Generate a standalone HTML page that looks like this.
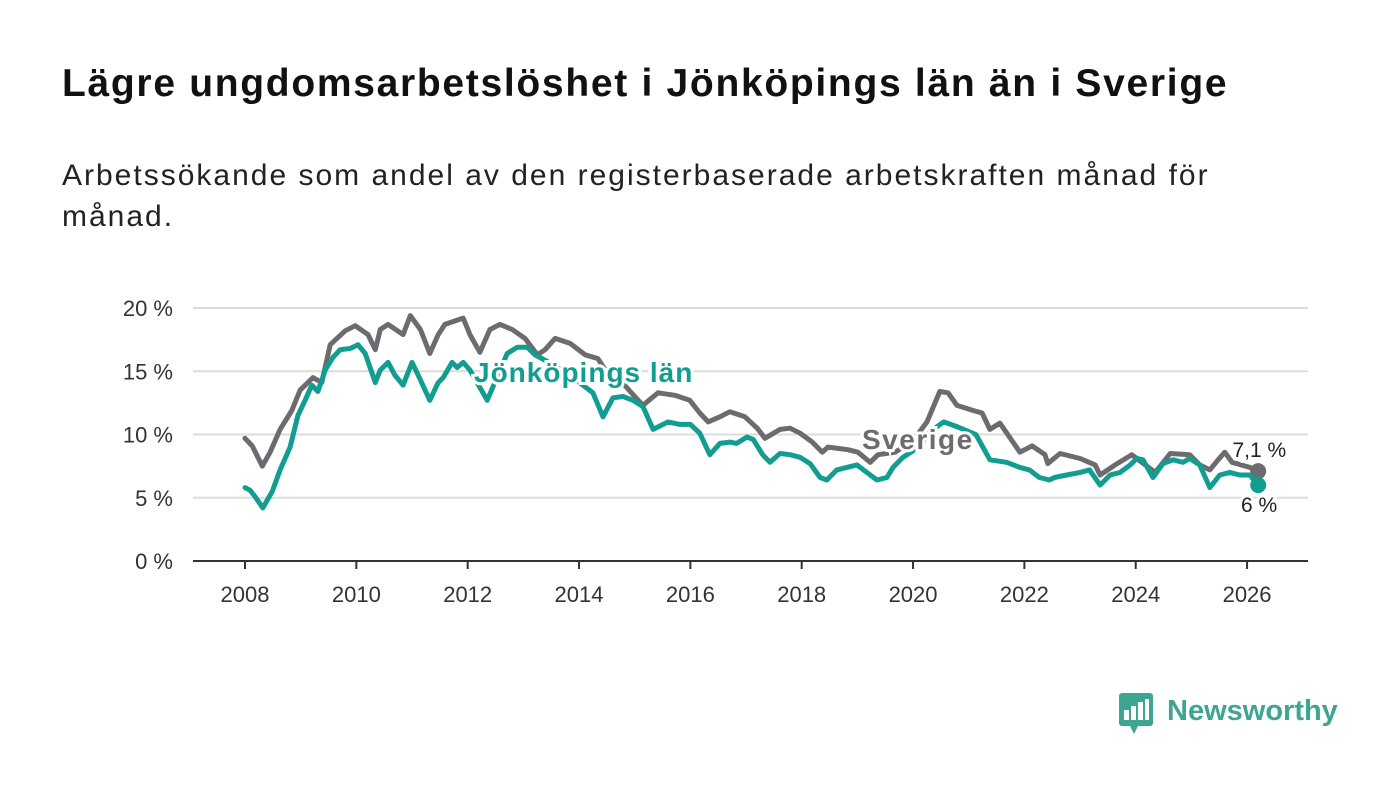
<!DOCTYPE html>
<html><head><meta charset="utf-8">
<style>
body{margin:0;width:1400px;height:794px;background:#fff;overflow:hidden;font-family:"Liberation Sans","DejaVu Sans",sans-serif;}
#title{position:absolute;left:62px;top:62px;font-size:39px;font-weight:bold;color:#111;margin:0;letter-spacing:1.7px}
#sub{position:absolute;left:62px;top:155px;font-size:30px;line-height:41px;color:#222;width:1300px;letter-spacing:2px}
svg{position:absolute;left:0;top:0}
</style></head><body>
<h1 id="title">Lägre ungdomsarbetslöshet i Jönköpings län än i Sverige</h1>
<div id="sub">Arbetssökande som andel av den registerbaserade arbetskraften månad för<br>månad.</div>
<svg id="chart" width="1400" height="794"></svg>
<script>
const yTicks=[0,5,10,15,20];
const yTickLabels=["0 %","5 %","10 %","15 %","20 %"];
const xTicks=[2008,2010,2012,2014,2016,2018,2020,2022,2024,2026];
const sweYears=[2008.0,2008.13,2008.31,2008.45,2008.63,2008.84,2008.99,2009.22,2009.38,2009.53,2009.8,2009.98,2010.21,2010.34,2010.43,2010.57,2010.84,2010.97,2011.15,2011.32,2011.47,2011.59,2011.92,2012.04,2012.22,2012.4,2012.58,2012.8,2013.03,2013.25,2013.39,2013.57,2013.84,2014.11,2014.34,2014.5,2014.74,2014.92,2015.15,2015.31,2015.42,2015.72,2015.99,2016.17,2016.32,2016.53,2016.71,2016.98,2017.2,2017.34,2017.61,2017.79,2017.97,2018.19,2018.37,2018.47,2018.65,2018.83,2019.01,2019.23,2019.37,2019.68,2020.0,2020.25,2020.48,2020.63,2020.79,2021.08,2021.24,2021.38,2021.56,2021.92,2022.14,2022.37,2022.42,2022.64,2023.0,2023.27,2023.36,2023.63,2023.93,2024.35,2024.62,2024.97,2025.15,2025.33,2025.48,2025.6,2025.73,2026.05,2026.2];
const sweValues=[9.7,9.1,7.5,8.6,10.4,11.9,13.5,14.5,14.1,17.1,18.2,18.6,17.9,16.7,18.3,18.7,17.9,19.4,18.3,16.4,17.9,18.7,19.2,17.9,16.5,18.3,18.7,18.3,17.6,16.3,16.7,17.6,17.2,16.3,16.0,14.9,14.3,13.4,12.3,12.9,13.3,13.1,12.7,11.7,11.0,11.4,11.8,11.4,10.5,9.7,10.4,10.5,10.1,9.4,8.6,9.0,8.9,8.8,8.6,7.8,8.4,8.6,9.5,11.0,13.4,13.3,12.3,11.9,11.7,10.4,10.9,8.6,9.1,8.4,7.7,8.5,8.1,7.6,6.8,7.6,8.4,7.0,8.5,8.4,7.6,7.2,8.0,8.6,7.8,7.4,7.1];
const jkpYears=[2008.0,2008.09,2008.18,2008.32,2008.49,2008.63,2008.81,2008.95,2009.08,2009.2,2009.31,2009.44,2009.58,2009.71,2009.89,2010.03,2010.16,2010.34,2010.43,2010.57,2010.69,2010.84,2011.0,2011.11,2011.32,2011.47,2011.56,2011.72,2011.81,2011.92,2012.04,2012.35,2012.71,2012.89,2013.07,2013.21,2013.5,2013.8,2014.25,2014.43,2014.61,2014.79,2014.97,2015.15,2015.33,2015.6,2015.81,2016.0,2016.17,2016.35,2016.53,2016.71,2016.83,2017.02,2017.13,2017.3,2017.43,2017.61,2017.79,2017.97,2018.15,2018.33,2018.45,2018.63,2018.81,2018.99,2019.17,2019.35,2019.53,2019.64,2019.82,2020.1,2020.3,2020.55,2020.8,2021.13,2021.38,2021.68,2021.92,2022.09,2022.27,2022.45,2022.54,2022.76,2023.0,2023.17,2023.36,2023.54,2023.72,2023.9,2024.02,2024.13,2024.31,2024.49,2024.67,2024.85,2024.97,2025.15,2025.33,2025.51,2025.69,2025.87,2026.05,2026.2];
const jkpValues=[5.8,5.6,5.1,4.2,5.5,7.2,9.0,11.5,12.7,13.9,13.4,15.1,16.1,16.7,16.8,17.1,16.4,14.1,15.1,15.7,14.7,13.9,15.7,14.7,12.7,14.1,14.5,15.7,15.3,15.7,15.1,12.7,16.4,16.9,16.9,16.3,15.6,14.8,13.3,11.4,12.9,13.0,12.7,12.2,10.4,11.0,10.8,10.8,10.1,8.4,9.3,9.4,9.3,9.8,9.6,8.4,7.8,8.5,8.4,8.2,7.7,6.6,6.4,7.2,7.4,7.6,7.0,6.4,6.6,7.4,8.2,9.0,10.2,11.0,10.6,10.0,8.0,7.8,7.4,7.2,6.6,6.4,6.6,6.8,7.0,7.2,6.0,6.8,7.0,7.6,8.1,8.0,6.6,7.7,8.0,7.8,8.1,7.6,5.8,6.8,7.0,6.8,6.8,6.0];
const sweLast="7,1 %", jkpLast="6 %";

const NS="http://www.w3.org/2000/svg";
const svg=document.getElementById('chart');
const X0=193,X1=1308,Y0=561;
const xs=t=>245+(t-2008)*55.67;
const ys=v=>Y0-v*12.65;
function mk(tag,at,parent){const e=document.createElementNS(NS,tag);for(const k in at)e.setAttribute(k,at[k]);(parent||svg).appendChild(e);return e;}

yTicks.forEach((v,i)=>{
  if(v>0){const g=mk('line',{x1:X0,x2:X1,y1:ys(v),y2:ys(v),stroke:'#dcdcdc','stroke-width':2});
  
  }
  const t=mk('text',{x:173,y:ys(v)+8,'text-anchor':'end','font-size':22,fill:'#333'});
  t.textContent=yTickLabels[i];
  
  
});
const ax=mk('line',{x1:X0,x2:X1,y1:Y0,y2:Y0,stroke:'#333','stroke-width':2});


xTicks.forEach(y=>{
  const tk=mk('line',{x1:xs(y),x2:xs(y),y1:Y0,y2:Y0+8,stroke:'#333','stroke-width':2});
  
  
  const t=mk('text',{x:xs(y),y:602,'text-anchor':'middle','font-size':22,fill:'#333'});
  t.textContent=y;
  
  
});
function line(years,vals,color,name){
  const d=years.map((t,i)=>(i?'L':'M')+xs(t).toFixed(1)+','+ys(vals[i]).toFixed(1)).join('');
  const p=mk('path',{d:d,fill:'none',stroke:color,'stroke-width':5,'stroke-linejoin':'round','stroke-linecap':'round'});
  
  
  const n=years.length-1;
  const c=mk('circle',{cx:xs(years[n]),cy:ys(vals[n]),r:8,fill:color});
  
  
}
line(sweYears,sweValues,'#6d6b70','sverige-line');
line(jkpYears,jkpValues,'#119e91','jonkoping-line');
function lbl(x,y,txt,color,size,weight,anchor,name,ls){
  const t=mk('text',{x:x,y:y,'font-size':size,'font-weight':weight,fill:color,stroke:'#fff','stroke-width':6,'paint-order':'stroke','text-anchor':anchor||'start','letter-spacing':ls||0});
  t.textContent=txt;
  
  
}
lbl(474,382,'Jönköpings län','#119e91',28,'bold','start','jonkoping-series-label',1);
lbl(862,449,'Sverige','#6d6b70',28,'bold','start','sverige-series-label',1.5);
const ns=sweYears.length-1, nj=jkpYears.length-1;
lbl(xs(sweYears[ns])+28,ys(sweValues[ns])-14,sweLast,'#222',21,'normal','end','sverige-end-value');
lbl(xs(jkpYears[nj])+19,ys(jkpValues[nj])+27,jkpLast,'#222',21,'normal','end','jonkoping-end-value');

// logo
const lg=mk('g',{});


mk('rect',{x:1119,y:693,width:34,height:33,rx:3,fill:'#3fa593'},lg);
mk('polygon',{points:'1130,726 1138,726 1134,734',fill:'#3fa593'},lg);
[[1124,710,5],[1131,706,5],[1138,702,5],[1145,699,4]].forEach(b=>mk('rect',{x:b[0],y:b[1],width:b[2],height:720-b[1],fill:'#fff'},lg));
const lt=mk('text',{x:1167,y:720,'font-size':29,'font-weight':'bold',fill:'#3fa593'},lg);
lt.textContent='Newsworthy';
</script>
</body></html>
